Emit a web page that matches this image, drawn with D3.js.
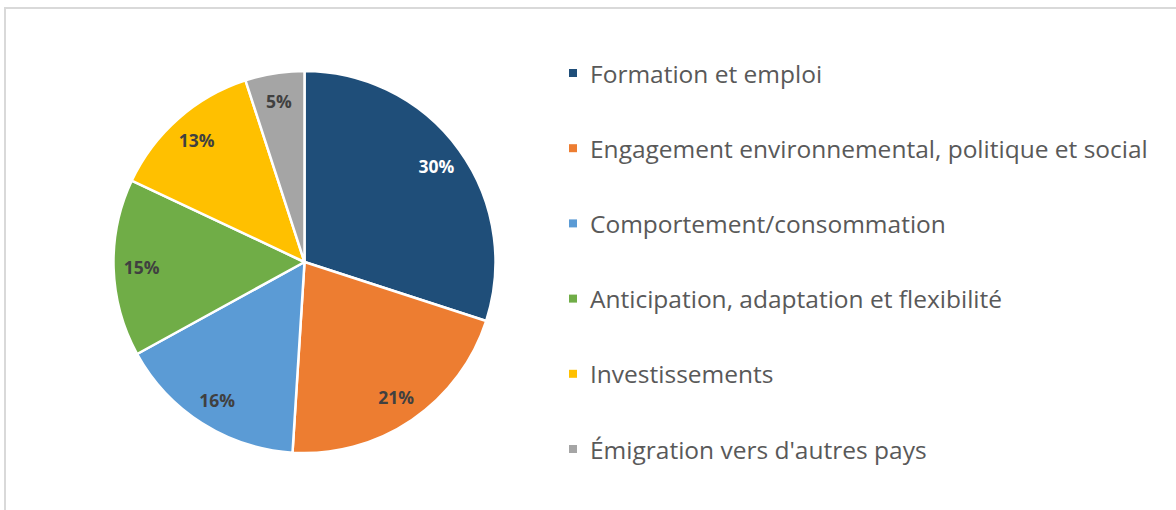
<!DOCTYPE html>
<html>
<head>
<meta charset="utf-8">
<script src="https://cdn.jsdelivr.net/npm/d3@7"></script>
<style>
  html, body { margin: 0; padding: 0; background: #fff; }
  svg { display: block; }
</style>
</head>
<body>
<svg id="chart" width="1176" height="510"></svg>
<script>
// Répartition des thèmes
const categories = [
  "Formation et emploi",
  "Engagement environnemental, politique et social",
  "Comportement/consommation",
  "Anticipation, adaptation et flexibilité",
  "Investissements",
  "Émigration vers d'autres pays"
];
const values = [30, 21, 16, 15, 13, 5];
const colors = ["#1f4e79", "#ed7d31", "#5b9bd5", "#70ad47", "#ffc000", "#a5a5a5"];
const labelColors = ["#ffffff", "#404040", "#404040", "#404040", "#404040", "#404040"];

const svg = d3.select("#chart");
const W = 1176, H = 510;

// outer frame
svg.append("rect")
  .attr("x", 5).attr("y", 8)
  .attr("width", W + 10).attr("height", H + 10)
  .attr("fill", "#fff")
  .attr("stroke", "#d9d9d9").attr("stroke-width", 2);

const cx = 304.5, cy = 262, r = 191;
const data = categories.map((c, i) => ({ name: c, value: values[i], i }));

const pie = d3.pie().value(d => d.value).sort(null);
const arc = d3.arc().innerRadius(0).outerRadius(r);
const labelArc = d3.arc().innerRadius(163).outerRadius(163);

const g = svg.append("g").attr("transform", `translate(${cx},${cy})`);
const arcs = pie(data);

g.selectAll("path.slice")
  .data(arcs)
  .join("path")
  .attr("class", "slice")
  .attr("d", arc)
  .attr("fill", d => colors[d.data.i])
  .attr("stroke", "#fff")
  .attr("stroke-width", 2.5)
  .attr("stroke-linejoin", "round");

g.selectAll("text.lbl")
  .data(arcs)
  .join("text")
  .attr("class", "lbl")
  .attr("transform", d => `translate(${labelArc.centroid(d)})`)
  .attr("text-anchor", "middle")
  .attr("dominant-baseline", "central")
  .attr("font-family", "'Open Sans', sans-serif")
  .attr("font-weight", "bold")
  .attr("font-size", 17.5)
  .attr("fill", d => labelColors[d.data.i])
  .text(d => d.data.value + "%");

// legend
const legend = svg.append("g");
const y = d3.scalePoint().domain(categories).range([73, 449]);
const rows = legend.selectAll("g.row")
  .data(data)
  .join("g")
  .attr("class", "row")
  .attr("transform", d => `translate(569,${y(d.name)})`);

rows.append("rect")
  .attr("x", 0).attr("y", -4)
  .attr("width", 8).attr("height", 8)
  .attr("fill", d => colors[d.i]);

rows.append("text")
  .attr("x", 21).attr("y", 0)
  .attr("dominant-baseline", "central")
  .attr("font-family", "'Open Sans', sans-serif")
  .attr("font-size", 24.5)
  .attr("fill", "#595959")
  .text(d => d.name);
</script>
</body>
</html>
